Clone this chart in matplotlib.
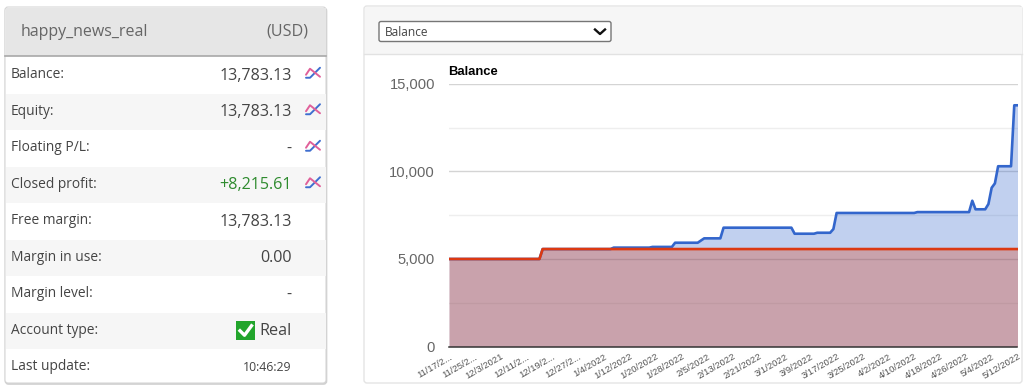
import matplotlib
matplotlib.use("Agg")
import matplotlib.pyplot as plt
import matplotlib.dates as mdates
import pandas as pd
from matplotlib.patches import FancyBboxPatch, Rectangle

# ---------- data ----------
account_name = "happy_news_real"
currency = "(USD)"
row_labels = ["Balance:", "Equity:", "Floating P/L:", "Closed profit:", "Free margin:",
              "Margin in use:", "Margin level:", "Account type:", "Last update:"]
row_values = ["13,783.13", "13,783.13", "-", "+8,215.61", "13,783.13",
              "0.00", "-", "Real", "10:46:29"]
rows_with_icon = [0, 1, 2, 3]

balance_dates = ["2021-11-17", "2021-12-15", "2021-12-16", "2022-01-06", "2022-01-07",
                 "2022-01-18", "2022-01-19", "2022-01-25", "2022-01-26", "2022-02-02",
                 "2022-02-04", "2022-02-09", "2022-02-10", "2022-03-03", "2022-03-04",
                 "2022-03-10", "2022-03-11", "2022-03-15", "2022-03-16", "2022-03-17",
                 "2022-04-10", "2022-04-11", "2022-04-27", "2022-04-28", "2022-04-29",
                 "2022-05-02", "2022-05-03", "2022-05-04", "2022-05-05", "2022-05-06",
                 "2022-05-10", "2022-05-11", "2022-05-12"]
balance_values = [5000, 5000, 5568, 5568, 5650,
                  5650, 5690, 5690, 5930, 5930,
                  6180, 6180, 6790, 6790, 6445,
                  6445, 6500, 6500, 6710, 7630,
                  7630, 7680, 7680, 8330, 7840,
                  7840, 8140, 9070, 9320, 10300,
                  10300, 13783, 13783]
deposit_dates = ["2021-11-17", "2021-12-15", "2021-12-16", "2022-05-12"]
deposit_values = [5000, 5000, 5568, 5568]

tick_dates = ["2021-11-17", "2021-11-25", "2021-12-03", "2021-12-11", "2021-12-19", "2021-12-27",
              "2022-01-04", "2022-01-12", "2022-01-20", "2022-01-28", "2022-02-05", "2022-02-13",
              "2022-02-21", "2022-03-01", "2022-03-09", "2022-03-17", "2022-03-25", "2022-04-02",
              "2022-04-10", "2022-04-18", "2022-04-26", "2022-05-04", "2022-05-12"]
tick_labels = ["11/17/2...", "11/25/2...", "12/3/2021", "12/11/2...", "12/19/2...", "12/27/2...",
               "1/4/2022", "1/12/2022", "1/20/2022", "1/28/2022", "2/5/2022", "2/13/2022",
               "2/21/2022", "3/1/2022", "3/9/2022", "3/17/2022", "3/25/2022", "4/2/2022",
               "4/10/2022", "4/18/2022", "4/26/2022", "5/4/2022", "5/12/2022"]
y_major = [0, 5000, 10000, 15000]
y_major_labels = ["0", "5,000", "10,000", "15,000"]
y_minor = [2500, 7500, 12500]

# ---------- figure ----------
W, H = 1024, 390
fig = plt.figure(figsize=(W / 100, H / 100), dpi=100, facecolor="white")

# Overlay in pixel coordinates for the surrounding page furniture
bg = fig.add_axes([0, 0, 1, 1], zorder=0)
bg.set_xlim(0, W)
bg.set_ylim(H, 0)
bg.axis("off")

SANS = "Open Sans"
ARIAL = "Liberation Sans"

# left card
bg.add_patch(FancyBboxPatch((5.5, 8), 321, 376, boxstyle="round,pad=0,rounding_size=3",
                            fc="#d0d0d0", ec="#d0d0d0", lw=1.2, zorder=1))
bg.add_patch(FancyBboxPatch((5, 7), 321, 376, boxstyle="round,pad=0,rounding_size=3",
                            fc="white", ec="#d6d6d6", lw=0.8, zorder=2))
bg.add_patch(Rectangle((5.5, 7.5), 320, 48, fc="#e6e6e6", ec="none", zorder=3))
bg.plot([5, 326], [56, 56], color="#a8a8a8", lw=1.2, zorder=4)
bg.text(21, 32, account_name, family=SANS, fontsize=11.5, color="#666666",
        va="center", ha="left", zorder=5)
bg.text(308, 32, currency, family=SANS, fontsize=11.6, color="#666666",
        va="center", ha="right", zorder=5)

row_top, row_h = 57.0, 36.5
for i, (lab, val) in enumerate(zip(row_labels, row_values)):
    top = row_top + i * row_h
    cy = top + row_h / 2 - 0.5
    if i % 2 == 1:
        bg.add_patch(Rectangle((5.5, top), 320, row_h, fc="#f6f6f6", ec="none", zorder=3))
    bg.text(11, cy, lab, family=SANS, fontsize=9.9, color="#444444",
            va="center", ha="left", zorder=5)
    if lab.startswith("Last"):
        fs, col = 8.8, "#444444"
    elif val.startswith("+"):
        fs, col = 11.6, "#2e8b2e"
    else:
        fs, col = 11.6, "#444444"
    bg.text(291.5, cy + 1, val, family=SANS, fontsize=fs, color=col,
            va="center", ha="right", zorder=5)
    if i in rows_with_icon:
        ox, oy = 313, cy - 1
        bg.plot([ox - 7, ox - 3, ox + 1, ox + 7], [oy + 4, oy + 4, oy, oy - 6],
                color="#3f6fd0", lw=1.4, zorder=5, solid_capstyle="round")
        bg.plot([ox - 7, ox - 3, ox + 2, ox + 7], [oy + 1, oy - 5, oy - 1, oy + 3],
                color="#e0609a", lw=1.4, zorder=6, solid_capstyle="round")
    if val == "Real":
        bg.add_patch(Rectangle((236, cy - 9), 19, 19, fc="#22a52c", ec="none", zorder=5))
        bg.plot([240, 244.5, 251.5], [cy + 0.5, cy + 5, cy - 4.5], color="white", lw=2.4, zorder=6)

# right card
bg.add_patch(FancyBboxPatch((364, 6), 658, 377, boxstyle="round,pad=0,rounding_size=3",
                            fc="white", ec="#e4e4e4", lw=1.0, zorder=1))
bg.add_patch(Rectangle((364.5, 6.5), 657, 47.5, fc="#f6f6f6", ec="none", zorder=2))
bg.plot([364, 1022], [54, 54], color="#e2e2e2", lw=1.0, zorder=3)
bg.add_patch(FancyBboxPatch((379, 21.5), 232, 20, boxstyle="round,pad=0,rounding_size=2",
                            fc="white", ec="#767676", lw=1.0, zorder=4))
bg.text(385, 32, "Balance", family=SANS, fontsize=8.6, color="#444444",
        va="center", ha="left", zorder=5)
bg.plot([595, 600, 605], [29.5, 34, 29.5], color="#111111", lw=1.7, zorder=5)

# chart axes
x_left, x_right, y_top, y_bottom = 449, 1017.5, 84, 346.5
ax = fig.add_axes([x_left / W, 1 - y_bottom / H, (x_right - x_left) / W, (y_bottom - y_top) / H],
                  zorder=2)
ax.patch.set_alpha(0)
bal_x = pd.to_datetime(balance_dates)
dep_x = pd.to_datetime(deposit_dates)
tick_x = pd.to_datetime(tick_dates)

ax.set_ylim(0, 15000)
ax.set_xlim(bal_x[0], bal_x[-1])

for v in y_minor:
    ax.axhline(v, color="#eeeeee", lw=1.0, zorder=1)
for v in y_major[1:]:
    ax.axhline(v, color="#d4d4d4", lw=1.0, zorder=1)

ax.fill_between(bal_x, balance_values, 0, color="#3366cc", alpha=0.3, lw=0, zorder=2)
ax.fill_between(dep_x, deposit_values, 0, color="#dc3912", alpha=0.3, lw=0, zorder=3)
ax.plot(bal_x, balance_values, color="#3366cc", lw=1.9, zorder=4, solid_joinstyle="round")
ax.plot(dep_x, deposit_values, color="#dc3912", lw=1.9, zorder=5, solid_joinstyle="round")

for s in ["top", "left", "right"]:
    ax.spines[s].set_visible(False)
ax.spines["bottom"].set_color("#333333")
ax.spines["bottom"].set_linewidth(1.1)
ax.spines["bottom"].set_zorder(6)

ax.set_yticks(y_major, y_major_labels)
ax.tick_params(axis="y", length=0, pad=10, labelsize=10.6, labelcolor="#666666")
ax.set_xticks(mdates.date2num(tick_x), tick_labels)
ax.tick_params(axis="x", length=0, pad=4, labelsize=6.8, labelcolor="#555555")
for t in ax.get_xticklabels():
    t.set_rotation(30)
    t.set_ha("right")
    t.set_rotation_mode("anchor")
    t.set_family(ARIAL)
for t in ax.get_yticklabels():
    t.set_family(ARIAL)

bg.text(448.5, 72, "Balance", family=ARIAL, fontsize=9.4, fontweight="bold", color="#000000",
        va="center", ha="left", zorder=5)

fig.savefig("out.png", dpi=100, facecolor="white")
